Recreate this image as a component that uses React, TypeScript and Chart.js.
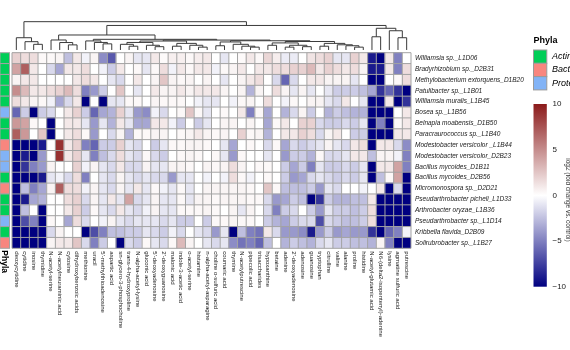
import React, { useEffect, useRef } from "react";
import { Chart, registerables } from "chart.js";

Chart.register(...registerables);

const metabolites = [
  "deoxycytidine", "cytidine", "inosine", "thymidine", "N-acetyl-serine",
  "N-acetylneuraminic acid", "cytosine", "dihydroxybenzoic acids", "methionine", "uracil",
  "5'-methylthioadenosine", "aspartic acid", "sn-glycero-3-phosphocholine", "trans-4-hydroxyproline", "N-alpha-acetyl-lysine",
  "gluconic acid", "5'-deoxyadenosine", "2'-deoxyguanosine", "malonic acid", "indole-3-acetic acid",
  "o-acetyl-serine", "histamine", "n-alpha-acetyl-asparagine", "choline o-sulfuric acid", "coumaric acid",
  "thymine", "N-acetylputrescine", "pipecolic acid", "trisaccharides", "hypoxanthine",
  "betaine", "adenine", "2'-deoxyadenosine", "adenosine", "guanosine",
  "tryptophan", "citrulline", "valine", "alanine", "proline",
  "histidine", "N-acetyl-glutamic acid", "N6-(delta2-isopentenyl)-adenine", "lysine", "agmatine sulfuric acid",
  "putrescine",
];

const strains = [
  "Williamsia sp._L1D06", "Bradyrhizobium sp._D2B31", "Methylobacterium extorquens_D1B20",
  "Patulibacter sp._L1B01", "Williamsia muralis_L1B45", "Bosea sp._L1B56",
  "Belnapia moabensis_D1B50", "Paracraurococcus sp._L1B40", "Modestobacter versicolor _L1B44",
  "Modestobacter versicolor_D2B23", "Bacillus mycoides_D1B11", "Bacillus mycoides_D2B56",
  "Micromonospora sp._D2D21", "Pseudarthrobacter picheli_L1D33", "Arthrobacter oryzae_L1B36",
  "Pseudarthrobacter sp._L1D14", "Kribbella flavida_D2B09", "Solirubrobacter sp._L1B27",
];

const phylaNames = ["Actinobacteria", "Bacteroidetes", "Proteobacteria"];
const phylaColors = ["#00CE57", "#F8867F", "#82B3F6"];
const strainPhylum = [0, 0, 0, 0, 0, 2, 0, 0, 1, 2, 2, 0, 1, 0, 0, 2, 0, 1];

const williamsiaL1D06 = [2, 1.5, 1.5, 0.3, 0.3, 0.5, -2.5, 1, -0.5, 0.5, -4.5, -6.5, 0, 0.5, -1, -1, 1, 0.2, 0.7, 0.7, 0.3, 0.8, 1, 0, -1, 0, 0.2, 1, 0.3, 1.8, 0.8, -0.8, -0.8, 0, 1.2, 1.5, 2, -1, -1, 2, 1, -9, -10, 1, -5, 0];
const bradyrhizobiumD2B31 = [4, 7, 1, 0, -1.5, -3.5, 1, 1, 1.5, 0, -0.5, -2, 1, 0, 0.3, -1, 0.3, 1.5, -0.5, 1, 0.3, 1, 1, -0.5, 0.3, 0.5, 1, 0, 1, 1, 1.5, 1.5, 2, 2, 3, 1, 2, 1.5, 1, 1.5, 0.5, -9, -9, 1, -5, 1.5];
const methylobacteriumD1B20 = [0.5, 1, 1, 0, 0, 0, 0, 1, 1.5, 1, 0, -1, -1.5, 0, 1, 0, 0.5, 2.5, 0.5, 0.3, 0.5, 0, 0.5, 0, -1, 0, 0.5, 1, 1.5, 0, -1.5, -6, -1.5, 0, 1, 1, 0.5, 0.5, 0.5, -1, 0, -10, -10, 0, 0.3, 1.5];
const patulibacterL1B01 = [5, 3, 1, 1, 1.5, 2, 3, 1.5, -5, -4, -2, 0, 2.5, 0, -1, 0, 1, 0.5, 0.5, 1, 0.5, 1, 1, 1, 0.5, 0, 0.5, -3, 0.5, 0, 1.5, 0.5, -1, 0.5, -1, 0, -1, -2, -2, -2, -2.5, -3.5, -8, -6, -8, -10];
const williamsiaMuralisL1B45 = [1.5, 1, 0.5, 0.3, -0.5, -3.5, -1.5, 1, -10, 0, -10, -1, -1, 0.3, 0.3, 0, 0.5, 0.3, 0.3, 0.3, 0, -0.5, -1, -1, 0, -0.5, 0.3, 0.5, 0, 1.5, 0, -0.5, 0.3, 0, 0.5, 0.5, -1, -1.5, 1, 0, -1, -10, -10, 1, -10, -8];
const boseaL1B56 = [-6, -2, -10, -2, -1.5, 0, 1, 2, -2, -6, -3.5, -3, 2, -1, -4, -4.5, -0.5, -1.5, 0, 0.3, 2.5, 0.3, -1, 0, 0.3, 0, 1, -5, 0.3, -3.5, 0, -3, -1.5, 0.5, -2, 0, -3, -2, -2.5, -3, -3, -10, -10, -10, 0, 1];
const belnapiaD1B50 = [4.5, 4, 0.3, 0, -10, 0, 1, 1, -1, -4, -1, -3, 1, -1, -3.5, -3.5, 1, 1, -0.5, -2, 0, -2, -1, 0, 0.5, 0.5, 0, 0.5, 0, -3.5, 0.3, 1, 0, 2, 2, -1.5, -2, -2, -1.5, -2, -1, -10, -5, -10, 0.3, 1];
const paracraurococcusL1B40 = [7, 4.5, 0, 2.5, -10, 0, 1, 1.5, 0.3, -4, 0, -1.5, 0.5, -3, 0.3, 0.3, 0.5, 0.5, 0, 0.3, 0.5, 1, 0.5, 0.3, 0.5, 0, 2, 0.3, 0.5, -3, 0, 1, 1, 2, 1.5, -1.5, 0.5, 1, 0, -2, -2, -10, -10, -10, 1, 1];
const modestobacterL1B44 = [-10, -10, -10, -9, 0, 9, 1, 2, -5, -6, -2, -2, 2, -1, -1.5, 0, -2, -1, 0.3, 0.3, 0.5, 0.5, 0.3, 0, -1, -3.5, 0, 0.3, 0, -1.5, 0.3, -3.5, -1.5, -2, -1.5, -1, 0.5, -1, -1.5, 1, 1.5, -10, 1, 1, -1.5, -4.5];
const modestobacterD2B23 = [-10, -9, -10, -4, 0, 9, 1, 2, -1, -5, -2.5, -1.5, 1.5, -1, -1.5, 0.3, -1.5, -2, 0, 0.3, 0.5, 0.3, 0, 0.3, -1, -4, 0.3, 0, 0, -1, 0, -4, -2, -2, -3, 0.3, -1.5, -1.5, -1, 1, 1, -2.5, 0.5, 0.5, -0.5, -5];
const bacillusD1B11 = [-10, -8, -5, -4, 0.5, 0, 0, 2, -0.5, 0.5, -1, -1.5, 1, -1.5, -1.5, 0.5, -1, -1, 0.5, 0.5, 0.3, 0, 0.5, 0.3, 0.5, 1.5, 0.5, 0, 0.3, 0.3, 0, -2, -3.5, -2, -5, -1, -2, -2, -1.5, -2, -1, -10, 1, 1, 4, -5];
const bacillusD2B56 = [-10, -10, -10, -9, -1, -0.5, -1.5, 1.5, -5, 0, -1, -1.5, 0.5, -1, -1.5, -1, -1.5, -1.5, -4, -1, -1, 0, -0.5, 0, -0.5, 1.5, 0.3, -0.5, 0, 0.3, 0, -2, -4, -3.5, -1.5, -1, -1.5, -2, -1.5, -2, -1, -10, -2.5, 0.3, 4, -10];
const micromonosporaD2D21 = [-10, -2.5, -5, -3.5, 0.5, 7, 1.5, 1.5, -0.5, 0.5, -1, -1.5, 0.5, -1, 1, -1, 0.3, -0.5, -1, 0.3, -1, 0, 0.5, 0.5, 0.5, 0.5, 0.5, 0.3, 0, 2.5, 0.3, -2.5, -2.5, -2.5, -2, -4, -1, -1.5, 0, 0, -0.5, 0, 1, -10, -1.5, -10];
const pseudarthrobacterPicheliL1D33 = [-10, -9, -3.5, -3, 0, 0, 1.5, 2, -1.5, 0.5, -1, 1, -1, 4, -1.5, -1, 0.5, -1, -1, 0.3, -1, 0.5, 0.5, 0.3, 0.5, 0.5, 0.5, 0.3, 0.3, -1.5, -4, -3.5, -2, -2.5, -10, -8, -2, -3, -3, -2.5, -2.5, 1, -10, -10, -10, -10];
const arthrobacterOryzaeL1B36 = [-10, -2.5, 0, -10, 0, 0, 1, 2, -2, 0.3, -1, -1.5, 1, -1, -1.5, -0.5, 0.5, -1, -1, 0.3, 0.3, 0.3, 0.5, 0.3, 0, 0.5, -1, 0.5, 0, -1.5, -5, -2, -1.5, 0, -2, -4, -1, -2, -2, -2.5, -2, 1.5, -10, -10, -10, -10];
const pseudarthrobacterL1D14 = [-10, -7, -5, -10, 0.3, 0, -3.5, 1.5, -1.5, 0, -0.5, 0.5, -1, -1.5, -1, -1, -1, -1.5, -1, -2, -2, 0, -2, 0.3, 0.3, 0.5, 0.3, 0.3, 0, -2, -3, -3.5, -2, -1.5, -1.5, -7, -1.5, -2, -2.5, -2.5, -2, 1.5, -10, -10, -10, -10];
const kribbellaD2B09 = [-10, -10, -10, -10, -1.5, 0.5, 0, 0, -10, -7, -5, -2.5, -2.5, -2, -2, -1, -1.5, -2, -0.5, -1.5, 0, -1, -1.5, -4, -1, -10, -2.5, -5, -5.5, 1, -1.5, -4, -4, -4.5, -9, -4, -2, -4, -3.5, -4, -4, -8, -10, -6, -5, -0.5];
const solirubrobacterL1B27 = [-10, -10, -10, -10, 0.5, 1, 1, 2.5, -1.5, -5, -2, 0, -10, -1.5, -2, 0.3, -1, -1.5, 0.3, 3, 0.5, 0, -1, -1.5, -1, -4.5, -5.5, -5, -6, -2.5, 0, -3, -2, -2.5, -3, -1.5, -1, -2, -2, -2.5, -2.5, -3, 0.5, -5, -10, -10];

const rowValues = [
  williamsiaL1D06, bradyrhizobiumD2B31, methylobacteriumD1B20, patulibacterL1B01,
  williamsiaMuralisL1B45, boseaL1B56, belnapiaD1B50, paracraurococcusL1B40,
  modestobacterL1B44, modestobacterD2B23, bacillusD1B11, bacillusD2B56,
  micromonosporaD2D21, pseudarthrobacterPicheliL1D33, arthrobacterOryzaeL1B36,
  pseudarthrobacterL1D14, kribbellaD2B09, solirubrobacterL1B27,
];

// hclust-style merges: negative = leaf (1-based column), positive = earlier merge (1-based); [left, right, height]
const dendroMerges: [number, number, number][] = [
  [-3, -4, 6], [-2, 1, 8.8], [-1, 2, 13],
  [-7, -8, 5.4], [-6, 4, 7.9], [-5, 5, 10.6],
  [-11, -12, 6.5], [-10, 7, 8], [-9, 8, 9.6],
  [-14, -15, 4], [-13, 10, 6], [-17, -18, 3.5], [-16, 12, 5], [11, 13, 8],
  [-19, -20, 4], [-22, -23, 3], [-21, 16, 5], [15, 17, 7],
  [-24, -25, 4.5], [-28, -29, 3], [-27, 20, 4], [-26, 21, 6], [19, 22, 8.5],
  [-30, -31, 5], [-32, -33, 3], [-34, -35, 3.5], [25, 26, 5], [24, 27, 7.5],
  [-36, -37, 4], [-40, -41, 3], [-39, 30, 4.5], [-38, 31, 5.5], [29, 32, 7],
  [14, 18, 9.5], [28, 33, 9], [23, 35, 9.8], [34, 36, 10.5],
  [9, 37, 11.3], [6, 38, 15.9],
  [-42, -43, 14], [-45, -46, 13], [-44, 41, 20.4], [40, 42, 23],
  [39, 43, 26], [3, 44, 30],
];

const colorbarTicks = [10, 5, 0, -5, -10];
const colorbarTickLabels = ["10", "5", "0", "\u22125", "\u221210"];

const FONT = "'Liberation Sans', Arial, Helvetica, sans-serif";
const ROWS = strains.length;
const Y_MAX = 21;
const DENDRO_BASE = 18.25;
const DENDRO_STEP = 0.0868;

const RED = [139, 26, 26];
const NAVY = [0, 0, 128];

function cellColor(v: number): string {
  const t = Math.max(-1, Math.min(1, v / 10));
  const end = t >= 0 ? RED : NAVY;
  const a = Math.abs(t);
  const c = end.map((e) => Math.round(255 + (e - 255) * a));
  return `rgb(${c[0]},${c[1]},${c[2]})`;
}

const decorPlugin = {
  id: "heatmapDecor",
  afterDatasetsDraw(chart: any) {
    const { ctx } = chart;
    const xs = chart.scales.x;
    const ys = chart.scales.y;
    const colW = xs.getPixelForValue(1) - xs.getPixelForValue(0);
    const left = xs.getPixelForValue(0) - colW / 2;
    const right = xs.getPixelForValue(metabolites.length - 1) + colW / 2;
    const top = ys.getPixelForValue(ROWS);
    const bottom = ys.getPixelForValue(0);

    ctx.save();
    // cell grid
    ctx.strokeStyle = "#a3a3a3";
    ctx.lineWidth = 1;
    ctx.beginPath();
    for (let i = 0; i <= metabolites.length; i++) {
      const px = left + i * colW;
      ctx.moveTo(px, top);
      ctx.lineTo(px, bottom);
    }
    for (let r = 0; r <= ROWS; r++) {
      const py = ys.getPixelForValue(r);
      ctx.moveTo(left, py);
      ctx.lineTo(right, py);
    }
    ctx.stroke();

    // phyla annotation strip
    const stripL = left - 12;
    const stripR = left - 2.5;
    strains.forEach((_, r) => {
      const y0 = ys.getPixelForValue(ROWS - r);
      const y1 = ys.getPixelForValue(ROWS - r - 1);
      ctx.fillStyle = phylaColors[strainPhylum[r]];
      ctx.fillRect(stripL, y0, stripR - stripL, y1 - y0);
      ctx.strokeStyle = "#a3a3a3";
      ctx.strokeRect(stripL, y0, stripR - stripL, y1 - y0);
    });

    // dendrogram
    ctx.strokeStyle = "#3a3a3a";
    ctx.lineWidth = 1;
    const nodes: { x: number; h: number }[] = [];
    const yOf = (h: number) => ys.getPixelForValue(DENDRO_BASE + h * DENDRO_STEP);
    ctx.beginPath();
    dendroMerges.forEach(([a, b, h]) => {
      const A = a < 0 ? { x: xs.getPixelForValue(-a - 1), h: 0 } : nodes[a - 1];
      const B = b < 0 ? { x: xs.getPixelForValue(-b - 1), h: 0 } : nodes[b - 1];
      const yh = yOf(h);
      ctx.moveTo(A.x, yOf(A.h));
      ctx.lineTo(A.x, yh);
      ctx.lineTo(B.x, yh);
      ctx.lineTo(B.x, yOf(B.h));
      nodes.push({ x: (A.x + B.x) / 2, h });
    });
    ctx.stroke();

    // row labels
    ctx.fillStyle = "#1a1a1a";
    ctx.font = `italic 6.5px ${FONT}`;
    ctx.textAlign = "left";
    ctx.textBaseline = "middle";
    strains.forEach((s, r) => {
      ctx.fillText(s, right + 4, ys.getPixelForValue(ROWS - r - 0.5));
    });

    // column labels
    ctx.font = `6px ${FONT}`;
    metabolites.forEach((m, i) => {
      ctx.save();
      ctx.translate(xs.getPixelForValue(i), bottom + 3);
      ctx.rotate(Math.PI / 2);
      ctx.fillText(m, 0, 0);
      ctx.restore();
    });

    // strip title
    ctx.save();
    ctx.font = `bold 8.5px ${FONT}`;
    ctx.fillStyle = "#000";
    ctx.translate((stripL + stripR) / 2, bottom + 2);
    ctx.rotate(Math.PI / 2);
    ctx.fillText("Phyla", 0, 0);
    ctx.restore();

    // legend: Phyla
    const lx = 533.5;
    ctx.fillStyle = "#000";
    ctx.font = `bold 9px ${FONT}`;
    ctx.textBaseline = "alphabetic";
    ctx.fillText("Phyla", lx, 43);
    const boxH = 13.3;
    phylaNames.forEach((p, k) => {
      const by = 50 + k * boxH;
      ctx.fillStyle = phylaColors[k];
      ctx.fillRect(lx, by, 13.3, boxH);
      ctx.strokeStyle = "#9a9a9a";
      ctx.strokeRect(lx, by, 13.3, boxH);
      ctx.fillStyle = "#000";
      ctx.font = `italic 9px ${FONT}`;
      ctx.textBaseline = "middle";
      ctx.fillText(p, lx + 18.5, by + boxH / 2);
    });

    // colour bar
    const cbTop = 104;
    const cbBot = 286.7;
    const vToY = (v: number) => cbTop + ((10 - v) / 20) * (cbBot - cbTop);
    const grad = ctx.createLinearGradient(0, cbTop, 0, cbBot);
    grad.addColorStop(0, cellColor(10));
    grad.addColorStop(0.5, cellColor(0));
    grad.addColorStop(1, cellColor(-10));
    ctx.fillStyle = grad;
    ctx.fillRect(lx, cbTop, 13.3, cbBot - cbTop);
    ctx.fillStyle = "#1a1a1a";
    ctx.font = `8px ${FONT}`;
    ctx.textBaseline = "middle";
    colorbarTicks.forEach((t, k) => {
      ctx.fillText(colorbarTickLabels[k], lx + 19, vToY(t));
    });

    // colour bar title (clipped at the edge)
    ctx.save();
    ctx.font = `6.5px ${FONT}`;
    ctx.fillStyle = "#333";
    ctx.translate(564.5, 200);
    ctx.rotate(Math.PI / 2);
    ctx.textAlign = "center";
    ctx.textBaseline = "bottom";
    ctx.fillText("log2 (fold change vs. control)", 0, 0);
    ctx.restore();

    ctx.restore();
  },
};

export default function App() {
  const ref = useRef<HTMLCanvasElement>(null);
  useEffect(() => {
    const datasets = strains
      .map((name, r) => ({
        label: name,
        data: rowValues[r].map((v, i) => ({ x: metabolites[i], y: 1, v })),
        backgroundColor: (c: any) => cellColor(c.raw ? c.raw.v : 0),
        borderWidth: 0,
        barPercentage: 1,
        categoryPercentage: 1,
      }))
      .reverse();
    const chart = new Chart(ref.current as HTMLCanvasElement, {
      type: "bar",
      data: { labels: metabolites, datasets: datasets as any },
      options: {
        responsive: false,
        devicePixelRatio: 1,
        animation: false,
        events: [],
        layout: { padding: { left: 12, right: 159, top: 20.1, bottom: 101.7 } },
        scales: {
          x: { type: "category", stacked: true, display: false, offset: true },
          y: { type: "linear", stacked: true, display: false, min: 0, max: Y_MAX },
        },
        plugins: { legend: { display: false }, tooltip: { enabled: false } },
      },
      plugins: [decorPlugin],
    });
    return () => chart.destroy();
  }, []);
  return (
    <div style={{ position: "fixed", left: 0, top: 0, width: 570, height: 350, background: "#fff" }}>
      <canvas ref={ref} width={570} height={350} style={{ display: "block", width: 570, height: 350 }} />
    </div>
  );
}
